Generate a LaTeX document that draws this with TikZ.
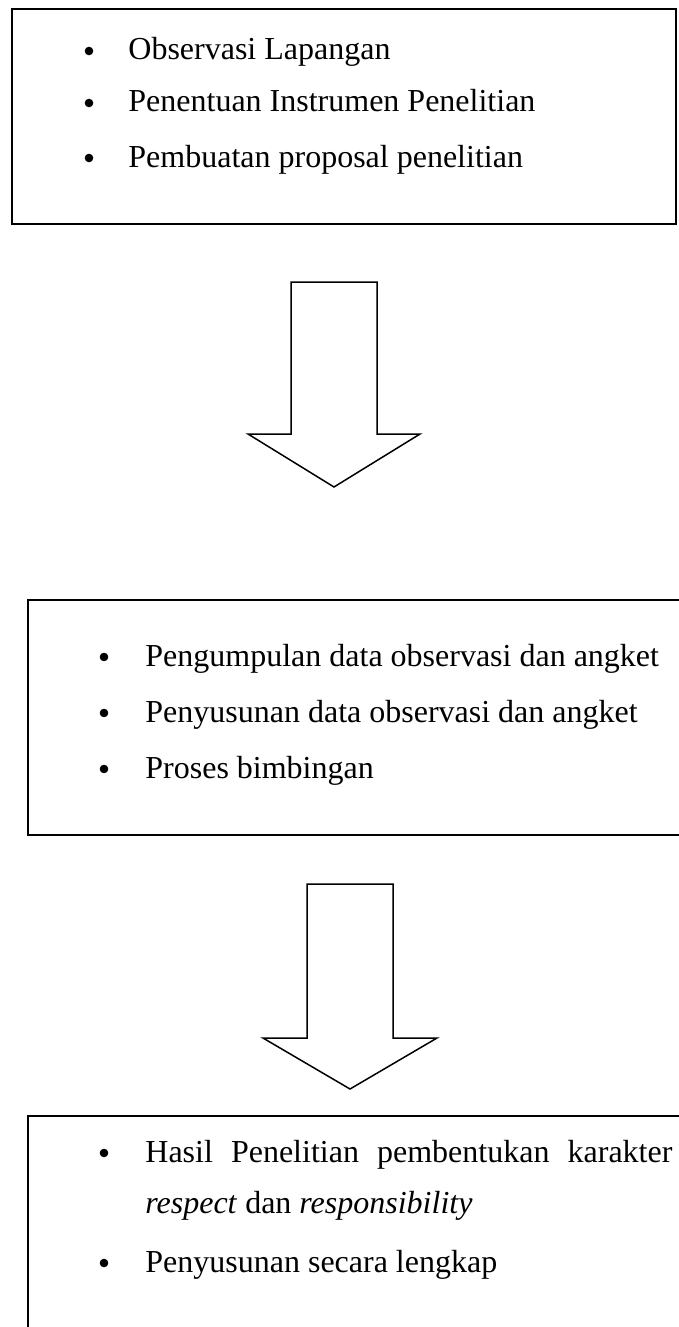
\documentclass[tikz,border=0pt]{standalone}
\usepackage{fontspec}
\setmainfont{Liberation Serif}
\begin{document}
\begin{tikzpicture}[x=0.5pt,y=-0.5pt,
  box/.style={draw=black,line width=1pt},
  arr/.style={draw=black,line width=0.75pt,line join=miter,fill=white},
  txt/.style={anchor=base west,inner sep=0pt,font=\fontsize{16pt}{19pt}\selectfont},
  bul/.style={circle,fill=black,inner sep=0pt,minimum size=4.3pt}]
\useasboundingbox (0,0) rectangle (679,1327);
\clip (0,0) rectangle (679,1327);
% top box
\draw[box] (12,9) rectangle (676,224);
\node[bul] (b1) at (89,51) {};
\node[txt] (t1) at (128,60) {Observasi Lapangan};
\node[bul] (b2) at (89,103) {};
\node[txt] (t2) at (128,112) {Penentuan Instrumen Penelitian};
\node[bul] (b3) at (89,158) {};
\node[txt] (t3) at (128,167) {Pembuatan proposal penelitian};
% arrow 1
\draw[arr] (291,282) -- (377,282) -- (377,434) -- (420,434) -- (334,487) -- (248,434) -- (291,434) -- cycle;
% middle box
\draw[box] (28,600) rectangle (700,835);
\node[bul] (b4) at (104,657) {};
\node[txt] (t4) at (145,666) {Pengumpulan data observasi dan angket};
\node[bul] (b5) at (104,713) {};
\node[txt] (t5) at (145,722) {Penyusunan data observasi dan angket};
\node[bul] (b6) at (104,769) {};
\node[txt] (t6) at (145,778) {Proses bimbingan};
% arrow 2
\draw[arr] (307,884) -- (393,884) -- (393,1038) -- (437,1038) -- (350,1089) -- (263,1038) -- (307,1038) -- cycle;
% bottom box
\draw[box] (28,1340) -- (28,1116) -- (700,1116);
\node[bul] (b7) at (104,1153) {};
\node[txt] (t7) at (145,1162) {\makebox[263.5pt][s]{Hasil Penelitian pembentukan karakter}};
\node[txt] (t8) at (145,1213) {\textit{respect} dan \textit{responsibility}};
\node[bul] (b9) at (104,1263) {};
\node[txt] (t9) at (145,1272) {Penyusunan secara lengkap};
\end{tikzpicture}
\end{document}
